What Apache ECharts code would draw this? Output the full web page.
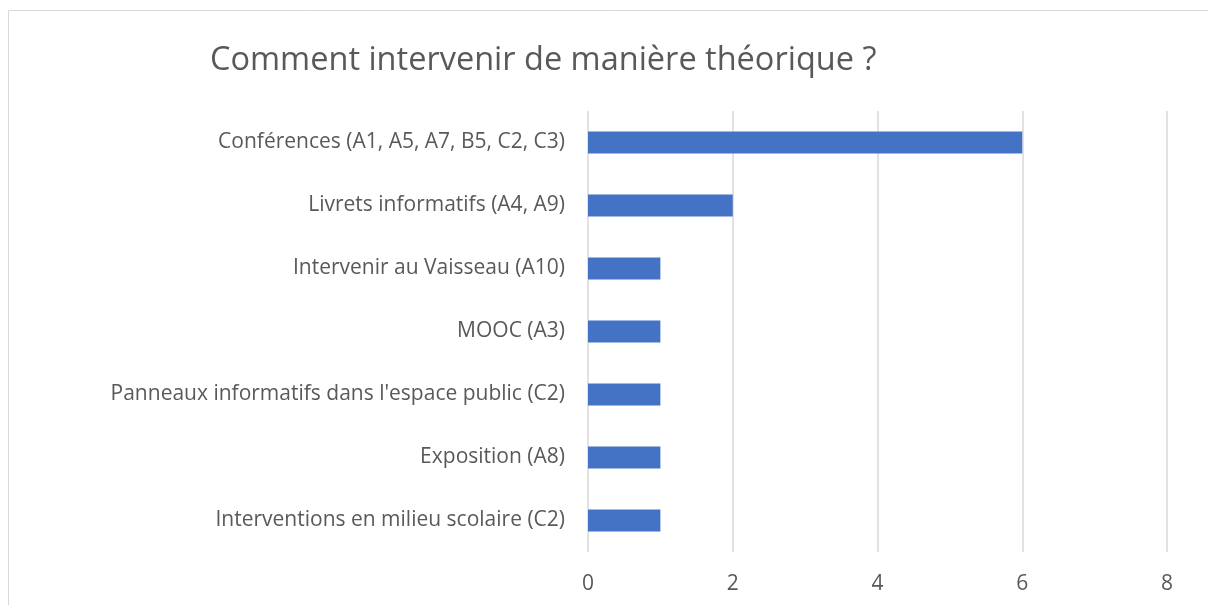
<!DOCTYPE html>
<html>
<head>
<meta charset="utf-8">
<script src="https://cdn.jsdelivr.net/npm/echarts@6/dist/echarts.min.js"></script>
<style>html,body{margin:0;padding:0;background:#fff}#c{width:1208px;height:605px}</style>
</head>
<body>
<div id="c"></div>
<script>
const titleText = "Comment intervenir de manière théorique ?";
const categories = [
  "Conférences (A1, A5, A7, B5, C2, C3)",
  "Livrets informatifs (A4, A9)",
  "Intervenir au Vaisseau (A10)",
  "MOOC (A3)",
  "Panneaux informatifs dans l'espace public (C2)",
  "Exposition (A8)",
  "Interventions en milieu scolaire (C2)"
];
const values = [6, 2, 1, 1, 1, 1, 1];
const xTicks = [0, 2, 4, 6, 8];

const chart = echarts.init(document.getElementById('c'), null, {renderer: 'canvas'});
const font = "'Open Sans', 'Noto Sans', sans-serif";
chart.setOption({
  animation: false,
  backgroundColor: '#fff',
  graphic: [{
    type: 'rect', shape: {x: 8.5, y: 10.5, width: 1300, height: 700},
    style: {fill: 'none', stroke: '#d9d9d9', lineWidth: 1}, silent: true
  }],
  title: {
    text: titleText, left: 205, top: 39,
    textStyle: {fontFamily: font, fontSize: 32.5, fontWeight: 'normal', color: '#595959'}
  },
  grid: {left: 588, right: 41, top: 111, bottom: 53, containLabel: false},
  xAxis: {
    type: 'value', min: xTicks[0], max: xTicks[xTicks.length - 1], interval: 2,
    axisLine: {show: false}, axisTick: {show: false},
    splitLine: {show: true, lineStyle: {color: '#d9d9d9', width: 1.5}},
    axisLabel: {color: '#595959', fontSize: 21, fontFamily: font, margin: 22}
  },
  yAxis: {
    type: 'category', data: categories, inverse: true,
    axisLine: {show: false}, axisTick: {show: false},
    axisLabel: {color: '#595959', fontSize: 21, fontFamily: font, margin: 23, padding: [3, 0, 0, 0]}
  },
  series: [{
    type: 'bar', data: values, barWidth: '35%',
    itemStyle: {color: '#4472C4'}
  }]
});
</script>
</body>
</html>
